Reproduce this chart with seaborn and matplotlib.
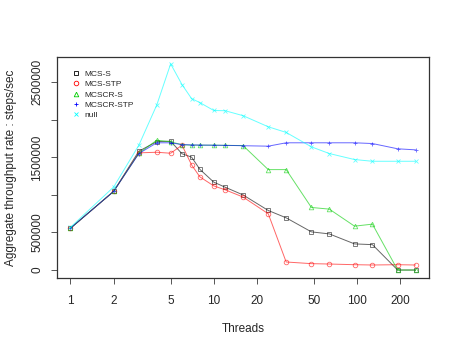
import numpy as np
import pandas as pd
import matplotlib
matplotlib.use("Agg")
import matplotlib.pyplot as plt
import seaborn as sns
from matplotlib.lines import Line2D

# valores (milhares de steps/sec)
threads = [1, 2, 3, 4, 5, 6, 7, 8, 10, 12, 16, 24, 32, 48, 64, 96, 128, 192, 256]
mcs_s = [557, 1047, 1582, 1710, 1715, 1548, 1503, 1340, 1170, 1103, 1000, 793, 695, 508, 481, 348, 338, 0, 0]
mcs_stp = [557, 1047, 1560, 1568, 1555, 1662, 1400, 1240, 1120, 1068, 972, 749, 107, 85, 80, 71, 67, 71, 67]
mcscr_s = [557, 1047, 1555, 1729, 1707, 1668, 1662, 1662, 1662, 1660, 1657, 1337, 1337, 833, 811, 584, 611, 0, 0]
mcscr_stp = [557, 1047, 1551, 1694, 1694, 1670, 1666, 1664, 1662, 1660, 1655, 1649, 1694, 1694, 1694, 1694, 1684, 1614, 1600]
null = [570, 1105, 1662, 2197, 2745, 2469, 2282, 2229, 2124, 2121, 2055, 1907, 1832, 1640, 1551, 1471, 1448, 1448, 1448]

nomes = ["MCS-S", "MCS-STP", "MCSCR-S", "MCSCR-STP", "null"]
cores = ["black", "red", "#00CD00", "blue", "cyan"]
marcadores = ["s", "o", "^", "+", "x"]

# ticks do eixo y (o R omite os rotulos que se sobrepoem)
yt = [0, 500000, 1000000, 1500000, 2000000, 2500000]
yt_rotulos = ["0", "500000", "", "1500000", "", "2500000"]
xt = [1, 2, 5, 10, 20, 50, 100, 200]

series = [mcs_s, mcs_stp, mcscr_s, mcscr_stp, null]
linhas = []
for nome, vals in zip(nomes, series):
    for t, v in zip(threads, vals):
        linhas.append({"Threads": t, "rate": v * 1000, "serie": nome})
df = pd.DataFrame(linhas)

sns.set_style("ticks")
plt.rcParams["font.family"] = ["Liberation Sans", "DejaVu Sans"]

fig = plt.figure(figsize=(4.58, 3.49), dpi=100)
ax = fig.add_axes([0.1238, 0.2026, 0.8135, 0.6349])

for nome, cor, m in zip(nomes, cores, marcadores):
    sns.lineplot(data=df[df["serie"] == nome], x="Threads", y="rate", color=cor,
                 marker=m, markersize=3.3, markerfacecolor="none", markeredgecolor=cor,
                 markeredgewidth=0.6, linewidth=0.7, alpha=0.6, ax=ax)

ax.set_xscale("log")
ax.set_xlim(10 ** -0.0963, 10 ** 2.504)
ax.set_ylim(-110000, 2840000)
ax.set_xticks(xt)
ax.set_xticklabels([str(x) for x in xt])
ax.xaxis.set_minor_locator(matplotlib.ticker.NullLocator())
ax.set_yticks(yt)
ax.set_yticklabels(yt_rotulos, rotation=90, va="center")
ax.tick_params(labelsize=8.5, length=4.3, width=0.7, color="#555555")
ax.tick_params(axis="x", pad=8)
ax.tick_params(axis="y", pad=5.5)

for s in ax.spines.values():
    s.set_visible(True)
    s.set_linewidth(0.9)
    s.set_color("#333333")

ax.set_xlabel("Threads", fontsize=8.5)
ax.set_ylabel("Aggregate throughput rate : steps/sec", fontsize=8.5)
ax.xaxis.set_label_coords(0.5, -0.2)
ax.yaxis.set_label_coords(-0.106, 0.5)

handles = [Line2D([], [], linestyle="none", marker=m, color=c, markerfacecolor="none",
                  markersize=3.3, markeredgewidth=0.6)
           for m, c in zip(marcadores, cores)]
ax.legend(handles, nomes, loc="upper left", frameon=False, fontsize=6,
          bbox_to_anchor=(0.035, 0.955), handlelength=0.8, handletextpad=0.5,
          labelspacing=0.3, borderaxespad=0)

fig.savefig("out.png", dpi=100)
